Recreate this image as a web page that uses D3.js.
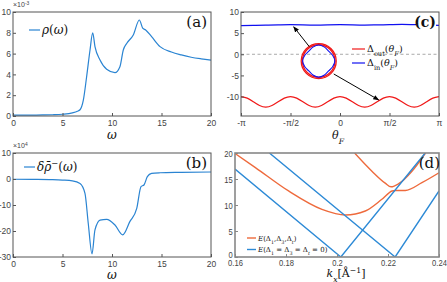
<!DOCTYPE html>
<html><head><meta charset="utf-8">
<script src="https://cdn.jsdelivr.net/npm/d3@7"></script>
<style>
body{margin:0;background:#fff}
svg{display:block}
.tick text{font-family:"Liberation Sans",Arial,sans-serif;fill:#444}
.lbl{font-family:"DejaVu Serif",serif;fill:#111}
</style></head><body>
<svg id="fig" width="447" height="282"></svg>
<script>
// ---- panel (a) rho(omega), units 1e-3
var omegaA = [0,1,2,3,4,5,6,6.5,6.77,7.1,7.44,7.78,8.05,8.28,8.79,9.46,10.3,10.8,11.14,11.5,12.15,12.76,13.1,13.4,14.0,14.85,16,17,18,19,20]
var rhoA   = [0.08,0.08,0.09,0.1,0.12,0.17,0.3,0.45,0.6,1.5,3.8,6.35,8.0,6.67,5.38,4.49,4.17,4.74,6.35,7.0,7.79,9.23,8.45,8.27,7.63,6.67,6.15,5.87,5.65,5.5,5.38]
var ticksA = [0,2,4,6,8,10]
// ---- panel (b) delta rho^-(omega), units 1e-4
var omegaB = [0,2,4,5,6,6.77,7.27,7.6,7.98,8.28,8.79,9.46,10.3,11.08,11.8,12.5,12.93,13.23,13.57,14.0,14.85,17,20]
var drhoB  = [-0.1,-0.15,-0.25,-0.4,-0.7,-1.7,-5.5,-17,-28.8,-19.6,-15.8,-15.5,-17.7,-21.5,-16.4,-11.3,-2.9,-2.3,0.9,2.2,2.4,2.55,2.7]
var ticksB = [-30,-20,-10,0,10]
var ticksOmega = [0,5,10,15,20]
// ---- panel (c) gaps vs theta_F (theta in units of pi)
var thetaOut = [-1,-0.9375,-0.875,-0.8125,-0.75,-0.6875,-0.625,-0.5625,-0.5,-0.4375,-0.375,-0.3125,-0.25,-0.1875,-0.125,-0.0625,0,
                0.0625,0.125,0.1875,0.25,0.3125,0.375,0.4375,0.5,0.5625,0.625,0.6875,0.75,0.8125,0.875,0.9375,1]
var deltaOut = [-10,-10.37,-11.25,-12.13,-12.5,-12.13,-11.25,-10.37,-10,-10.37,-11.25,-12.13,-12.5,-12.13,-11.25,-10.37,-10,
                -10.37,-11.25,-12.13,-12.5,-12.13,-11.25,-10.37,-10,-10.37,-11.25,-12.13,-12.5,-12.13,-11.25,-10.37,-10]
var thetaIn = [-1,-0.875,-0.75,-0.625,-0.5,-0.375,-0.25,-0.125,0,0.125,0.25,0.375,0.5,0.625,0.75,0.875,1]
var deltaIn = [6.8,6.85,6.9,6.95,7.0,6.95,6.9,6.95,7.0,6.95,6.9,6.95,7.0,7.05,7.0,6.95,6.85]
var ticksTheta = [-1,-0.5,0,0.5,1]
var ticksThetaLbl = ['-\u03c0','-\u03c0/2','0','\u03c0/2','\u03c0']
var ticksC = [-10,-5,0,5,10]
// inset: Fermi-surface sketch (angles in degrees, radius relative to outer ring)
var insetAng = [0,22.5,45,67.5,90,112.5,135,157.5,180,202.5,225,247.5,270,292.5,315,337.5]
var insetIn  = [0.92,0.86,0.8,0.86,0.92,0.86,0.8,0.86,0.92,0.86,0.8,0.86,0.92,0.86,0.8,0.86]
var insetOut = [0.93,1.0]
var insetCenter = [-0.215,-1.6]           // [theta/pi, Delta]
var arrowFrom = [[-0.31,1.8],[-0.063,-4.66]]
var arrowTo   = [[-0.468,6.5],[0.391,-10.8]]
// ---- panel (d) dispersion
var kLow = [0.16,0.168,0.181,0.1941,0.2033,0.2111,0.2176,0.2216,0.2229,0.2268,0.2333,0.24]
var eLow = [19.9,17.2,12.7,9.17,8.08,8.85,11.1,12.7,12.8,12.8,14.3,16.2]
var kUp  = [0.2069,0.2137,0.2189,0.2212,0.2242,0.2294,0.2347]
var eUp  = [20,16.5,14.2,13.5,14.1,16.5,20]
var kB1 = [0.16,0.2015,0.2346], eB1 = [16.9,0,20]
var kB2 = [0.1735,0.2228,0.24], eB2 = [20,0,12.7]
var ticksK = [0.16,0.18,0.2,0.22,0.24]
var ticksE = [0,5,10,15,20]

var svg = d3.select('#fig')
var defs = svg.append('defs')
defs.append('marker').attr('id','arr').attr('viewBox','0 0 10 10').attr('refX',9).attr('refY',5)
	.attr('markerWidth',6).attr('markerHeight',6).attr('orient','auto')
	.append('path').attr('d','M0,1 L10,5 L0,9 z').attr('fill','#000')

function zip(a,b){ return a.map(function(d,i){ return [d,b[i]] }) }

function axes(g,x,y,xt,yt,opt){
	opt = opt || {}
	var x0=x.range()[0], x1=x.range()[1], y0=y.range()[1], y1=y.range()[0]
	var ax = g.append('g').attr('transform','translate(0,'+y1+')')
		.call(d3.axisBottom(x).tickValues(xt).tickSize(-3).tickPadding(opt.xpad||4).tickFormat(opt.xfmt||function(d){return d}))
	var ay = g.append('g').attr('transform','translate('+x0+',0)')
		.call(d3.axisLeft(y).tickValues(yt).tickSize(-3).tickPadding(opt.ypad||2).tickFormat(function(d){return d}))
	;[ax,ay].forEach(function(a){
		a.select('.domain').remove()
		a.selectAll('.tick line').attr('stroke',opt.stroke||'#555')
		a.selectAll('.tick text').style('font-size',(opt.fs||8.5)+'px')
		if (opt.sx) a.selectAll('.tick text').attr('transform','scale('+opt.sx+',1)')
	})
	g.append('rect').attr('x',x0).attr('y',y0).attr('width',x1-x0).attr('height',y1-y0)
		.attr('fill','none').attr('stroke',opt.stroke||'#555').attr('stroke-width',opt.sw||1)
	return ay
}

function label(g,x,y,size,parts,anchor,italic){
	var t = g.append('text').attr('class','lbl').attr('x',x).attr('y',y)
		.style('font-size',size+'px').attr('text-anchor',anchor||'start')
	if (italic) t.style('font-style','italic')
	parts.forEach(function(p){
		var s = t.append('tspan').text(p[0])
		if (p[1]=='sub') s.attr('baseline-shift','sub').style('font-size',(size*0.7)+'px')
		if (p[1]=='sup') s.attr('baseline-shift','super').style('font-size',(size*0.7)+'px')
		if (p[2]) s.style('font-style',p[2])
	})
	return t
}

var blueA = '#2a84d2'

// ---------- (a)
var gA = svg.append('g')
var xA = d3.scaleLinear().domain([0,20]).range([13,211])
var yA = d3.scaleLinear().domain([0,10]).range([116,12])
gA.append('path').datum(zip(omegaA,rhoA)).attr('fill','none').attr('stroke',blueA).attr('stroke-width',1.2)
	.attr('d',d3.line().x(function(d){return xA(d[0])}).y(function(d){return yA(d[1])}).curve(d3.curveMonotoneX))
axes(gA,xA,yA,ticksOmega,ticksA)
label(gA,13,7,7,[['\u00d710'],['-3','sup']]).style('fill','#444').style('font-family','Liberation Sans')
gA.append('line').attr('x1',29).attr('x2',40).attr('y1',30).attr('y2',30).attr('stroke',blueA).attr('stroke-width',1.2)
label(gA,42,34,12,[['\u03c1'],['(','', 'normal'],['\u03c9'],[')','','normal']],'start',true)
label(gA,207,27,15,[['(a)']],'end')
label(gA,112,139,12,[['\u03c9']],'middle',true)

// ---------- (b)
var gB = svg.append('g')
var xB = d3.scaleLinear().domain([0,20]).range([13,211])
var yB = d3.scaleLinear().domain([-30,10]).range([257,153])
gB.append('path').datum(zip(omegaB,drhoB)).attr('fill','none').attr('stroke',blueA).attr('stroke-width',1.2)
	.attr('d',d3.line().x(function(d){return xB(d[0])}).y(function(d){return yB(d[1])}).curve(d3.curveMonotoneX))
axes(gB,xB,yB,ticksOmega,ticksB)
label(gB,13,148,7,[['\u00d710'],['4','sup']]).style('fill','#444').style('font-family','Liberation Sans')
gB.append('line').attr('x1',24).attr('x2',35).attr('y1',167).attr('y2',167).attr('stroke',blueA).attr('stroke-width',1.2)
label(gB,37,171,12,[['\u03b4\u03c1\u0304'],['\u2212','sup','normal'],['(','','normal'],['\u03c9'],[')','','normal']],'start',true)
label(gB,207,168,15,[['(b)']],'end')
label(gB,112,279,12,[['\u03c9']],'middle',true)

// ---------- (c)
var gC = svg.append('g')
var xC = d3.scaleLinear().domain([-1,1]).range([241,439])
var yC = d3.scaleLinear().domain([-14.6,10]).range([116,12])
gC.append('line').attr('x1',241).attr('x2',439).attr('y1',yC(0)).attr('y2',yC(0))
	.attr('stroke','#aaa').attr('stroke-dasharray','3,2.5').attr('stroke-width',1)
var lineC = d3.line().x(function(d){return xC(d[0])}).y(function(d){return yC(d[1])}).curve(d3.curveNatural)
gC.append('path').datum(zip(thetaOut,deltaOut)).attr('fill','none').attr('stroke','#f01818').attr('stroke-width',1.2).attr('d',lineC)
gC.append('path').datum(zip(thetaIn,deltaIn)).attr('fill','none').attr('stroke','#1010f0').attr('stroke-width',1.2).attr('d',lineC)
axes(gC,xC,yC,ticksTheta,ticksC,{xfmt:function(d,i){return ticksThetaLbl[i]}})
// inset
var R = 17.5
var cx = xC(insetCenter[0]), cy = yC(insetCenter[1])
var ins = gC.append('g').attr('transform','translate('+cx+','+cy+')')
insetOut.forEach(function(r){
	ins.append('circle').attr('r',r*R).attr('fill','none').attr('stroke','#f01818').attr('stroke-width',1.3)
})
ins.append('path').datum(zip(insetAng,insetIn)).attr('fill','none').attr('stroke','#1010f0').attr('stroke-width',1.1)
	.attr('d',d3.lineRadial().angle(function(d){return d[0]*Math.PI/180}).radius(function(d){return d[1]*R}).curve(d3.curveCardinalClosed))
arrowFrom.forEach(function(f,i){
	gC.append('line').attr('x1',xC(f[0])).attr('y1',yC(f[1])).attr('x2',xC(arrowTo[i][0])).attr('y2',yC(arrowTo[i][1]))
		.attr('stroke','#000').attr('stroke-width',1).attr('marker-end','url(#arr)')
})
// legend
gC.append('line').attr('x1',352).attr('x2',365).attr('y1',49).attr('y2',49).attr('stroke','#f01818').attr('stroke-width',1.2)
label(gC,367,52,9.5,[['\u0394'],['out','sub'],['('],['\u03b8','','italic'],['F','sub','italic'],[')']])
gC.append('line').attr('x1',352).attr('x2',365).attr('y1',63).attr('y2',63).attr('stroke','#1010f0').attr('stroke-width',1.2)
label(gC,367,66,9.5,[['\u0394'],['in','sub'],['('],['\u03b8','','italic'],['F','sub','italic'],[')']])
gC.append('rect').attr('x',416).attr('y',15).attr('width',20).attr('height',15).attr('fill','#fff')
label(gC,436,27,14,[['(c)']],'end').style('font-weight','bold')
label(gC,338,139,11,[['\u03b8'],['F','sub']],'middle',true)

// ---------- (d)
var gD = svg.append('g')
var xD = d3.scaleLinear().domain([0.16,0.24]).range([235,439])
var yD = d3.scaleLinear().domain([0,20]).range([257,153])
defs.append('clipPath').attr('id','clipD').append('rect').attr('x',235).attr('y',153).attr('width',204).attr('height',104)
var lineD = d3.line().x(function(d){return xD(d[0])}).y(function(d){return yD(d[1])})
var cd = gD.append('g').attr('clip-path','url(#clipD)')
var orange = '#ee6a3c', blueD = '#2d8ad6'
cd.append('path').datum(zip(kLow,eLow)).attr('fill','none').attr('stroke',orange).attr('stroke-width',1.4).attr('d',lineD.curve(d3.curveMonotoneX))
cd.append('path').datum(zip(kUp,eUp)).attr('fill','none').attr('stroke',orange).attr('stroke-width',1.4).attr('d',lineD.curve(d3.curveMonotoneX))
lineD.curve(d3.curveLinear)
cd.append('path').datum(zip(kB1,eB1)).attr('fill','none').attr('stroke',blueD).attr('stroke-width',1.4).attr('d',lineD)
cd.append('path').datum(zip(kB2,eB2)).attr('fill','none').attr('stroke',blueD).attr('stroke-width',1.4).attr('d',lineD)
var ayD = axes(gD,xD,yD,ticksK,ticksE,{stroke:'#888',sw:1.6,fs:9.5,sx:0.8,xpad:2,ypad:3})
ayD.selectAll('.tick text').filter(function(d){ return d===0 }).attr('dy','0.1em')
gD.append('line').attr('x1',247).attr('x2',256).attr('y1',238).attr('y2',238).attr('stroke',orange).attr('stroke-width',1.4)
label(gD,258,240.5,7,[['E'],['(\u0394','','normal'],['1','sub','normal'],[',\u0394','','normal'],['3','sub','normal'],[',\u0394','','normal'],['t','sub'],[')','','normal']],'start',true)
gD.append('line').attr('x1',247).attr('x2',256).attr('y1',249.5).attr('y2',249.5).attr('stroke',blueD).attr('stroke-width',1.4)
label(gD,258,252,7,[['E'],['(\u0394','','normal'],['1','sub','normal'],[' = \u0394','','normal'],['3','sub','normal'],[' = \u0394','','normal'],['t','sub'],[' = 0)','','normal']],'start',true)
label(gD,440,168,15,[['(d)']],'end')
label(gD,346,277,11,[['k'],['x','sub'],['[\u00c5','','normal'],['\u22121','sup','normal'],[']','','normal']],'middle',true)
</script>
</body></html>
